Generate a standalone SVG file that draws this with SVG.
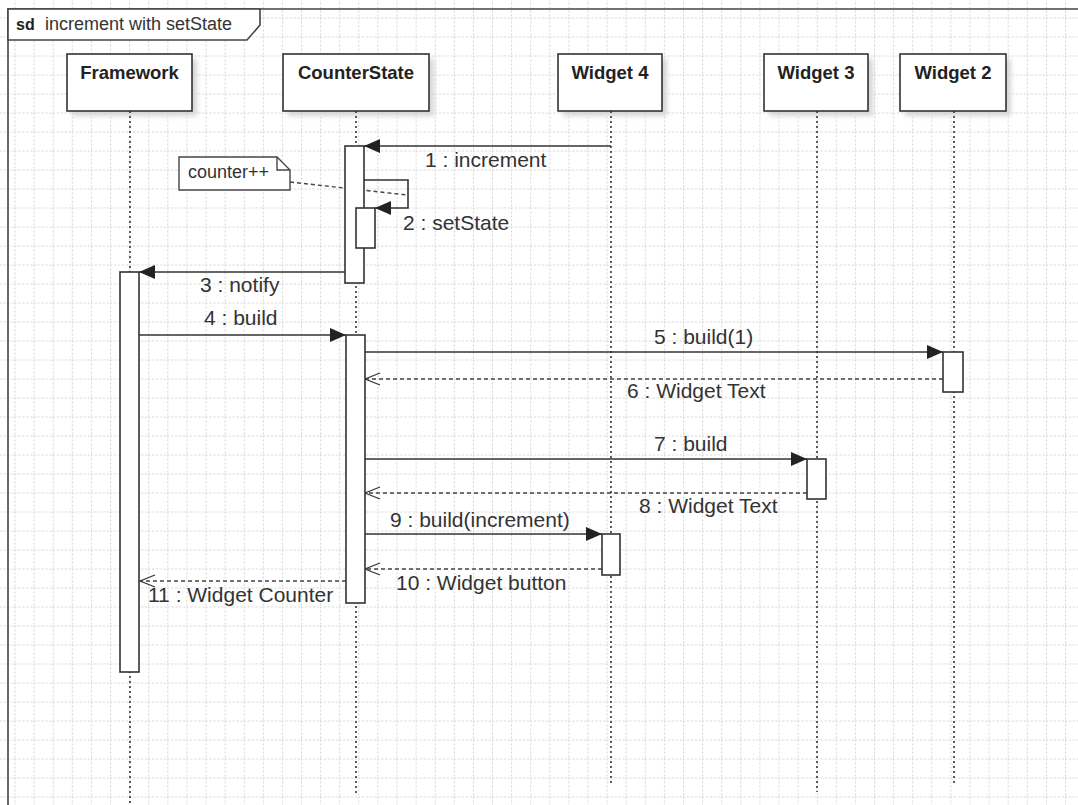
<svg xmlns="http://www.w3.org/2000/svg" width="1078" height="805" viewBox="0 0 1078 805">
<defs>
<style>
.grid{stroke:#d4d4d4;stroke-width:1;stroke-dasharray:2 2;fill:none}
.frame{fill:none;stroke:#444;stroke-width:1.6}
.flabel{fill:#fff;stroke:#444;stroke-width:1.6}
.head{fill:#fff;stroke:#333;stroke-width:1.6}
.shadow{fill:#d6d6d6;filter:url(#blur)}
.life{stroke:#333;stroke-width:1.6;stroke-dasharray:2 3;fill:none}
.act{fill:#fff;stroke:#333;stroke-width:1.6}
.msg{stroke:#333;stroke-width:1.6;fill:none;marker-end:url(#fillArrow)}
.ret{stroke:#444;stroke-width:1.4;fill:none;stroke-dasharray:4 3;marker-end:url(#openArrow)}
.nlink{stroke:#444;stroke-width:1.4;fill:none;stroke-dasharray:4 3}
.note{fill:#fff;stroke:#444;stroke-width:1.4}
.hd{font-family:"Liberation Sans",Arial,sans-serif;font-weight:bold;font-size:18.5px;fill:#222;text-anchor:middle}
.lbl{font-family:"Liberation Sans",Arial,sans-serif;font-size:21px;fill:#333}
.ft{font-family:"Liberation Sans",Arial,sans-serif;font-size:18px;fill:#333}
</style>
<filter id="blur" x="-20%" y="-20%" width="140%" height="140%"><feGaussianBlur stdDeviation="2.5"/></filter>
<pattern id="gp" x="14.5" y="17.5" width="19.1" height="19" patternUnits="userSpaceOnUse"><path d="M0.5,0 V19 M0,0.5 H19.1" class="grid"/></pattern>
<marker id="fillArrow" viewBox="0 0 16 14" refX="16" refY="7" markerWidth="16" markerHeight="14" orient="auto" markerUnits="userSpaceOnUse"><path d="M0,0 L16,7 L0,14 Z" fill="#222"/></marker>
<marker id="openArrow" viewBox="-1 -1 17 14" refX="15" refY="6" markerWidth="17" markerHeight="14" orient="auto" markerUnits="userSpaceOnUse"><path d="M0,0 L15,6 L0,12" fill="none" stroke="#333" stroke-width="1.2"/></marker>
</defs>
<rect width="1078" height="805" fill="#fff"/>
<rect width="1078" height="805" fill="url(#gp)"/>

<g id="frame">
<path class="frame" d="M8,805 V9 H1078"/>
<path class="flabel" d="M8,9 H260 V25 L247,40 H8 Z"/>
<text x="16" y="30" class="ft" style="font-weight:bold;font-size:16px;fill:#222">sd</text>
<text x="45" y="30" class="ft">increment with setState</text>
</g>

<g id="connectors">
<path class="nlink" d="M290,182 L407,195"/>
<path class="msg" d="M611,146 H364"/>
<path class="msg" d="M364,180 H408 V208 H375"/>
<path class="msg" d="M345,272 H139"/>
<path class="msg" d="M139,335 H346"/>
<path class="msg" d="M364,352 H943"/>
<path class="ret" d="M943,379 H365"/>
<path class="msg" d="M364,459 H807"/>
<path class="ret" d="M807,493 H365"/>
<path class="msg" d="M364,534 H602"/>
<path class="ret" d="M602,569 H365"/>
<path class="ret" d="M346,581 H140"/>
<text class="lbl" x="425" y="167">1 : increment</text>
<text class="lbl" x="403" y="230">2 : setState</text>
<text class="lbl" x="200" y="292">3 : notify</text>
<text class="lbl" x="204" y="325">4 : build</text>
<text class="lbl" x="654" y="344">5 : build(1)</text>
<text class="lbl" x="627" y="398">6 : Widget Text</text>
<text class="lbl" x="654" y="451">7 : build</text>
<text class="lbl" x="639" y="513">8 : Widget Text</text>
<text class="lbl" x="390" y="527">9 : build(increment)</text>
<text class="lbl" x="396" y="590">10 : Widget button</text>
<text class="lbl" x="148" y="602">11 : Widget Counter</text>
</g>

<g id="framework">
<rect class="shadow" x="72" y="59" width="125" height="57"/>
<rect class="head" x="67" y="54" width="125" height="57"/>
<text class="hd" x="129.5" y="78.5">Framework</text>
<path class="life" d="M130,111 V803"/>
<rect class="act" x="120" y="272" width="19" height="400"/>
</g>

<g id="counterstate">
<rect class="shadow" x="288" y="59" width="146" height="57"/>
<rect class="head" x="283" y="54" width="146" height="57"/>
<text class="hd" x="356" y="78.5">CounterState</text>
<path class="life" d="M356,111 V793"/>
<rect class="act" x="345" y="146" width="19" height="137"/>
<rect class="act" x="356" y="208" width="19" height="40"/>
<rect class="act" x="346" y="335" width="19" height="268"/>
</g>

<g id="widget4">
<rect class="shadow" x="563" y="59" width="104" height="57"/>
<rect class="head" x="558" y="54" width="104" height="57"/>
<text class="hd" x="610" y="78.5">Widget 4</text>
<path class="life" d="M611,111 V785"/>
<rect class="act" x="602" y="534" width="18" height="41"/>
</g>

<g id="widget3">
<rect class="shadow" x="769" y="59" width="104" height="57"/>
<rect class="head" x="764" y="54" width="104" height="57"/>
<text class="hd" x="816" y="78.5">Widget 3</text>
<path class="life" d="M817,111 V792"/>
<rect class="act" x="807" y="459" width="19" height="40"/>
</g>

<g id="widget2">
<rect class="shadow" x="905" y="59" width="106" height="57"/>
<rect class="head" x="900" y="54" width="106" height="57"/>
<text class="hd" x="953" y="78.5">Widget 2</text>
<path class="life" d="M954,111 V783"/>
<rect class="act" x="943" y="352" width="20" height="40"/>
</g>

<g id="note">
<path class="note" d="M179,157 H277 L290,170 V190 H179 Z"/>
<path class="note" d="M277,157 V170 H290" style="fill:none"/>
<text class="ft" x="188" y="178">counter++</text>
</g>
</svg>
